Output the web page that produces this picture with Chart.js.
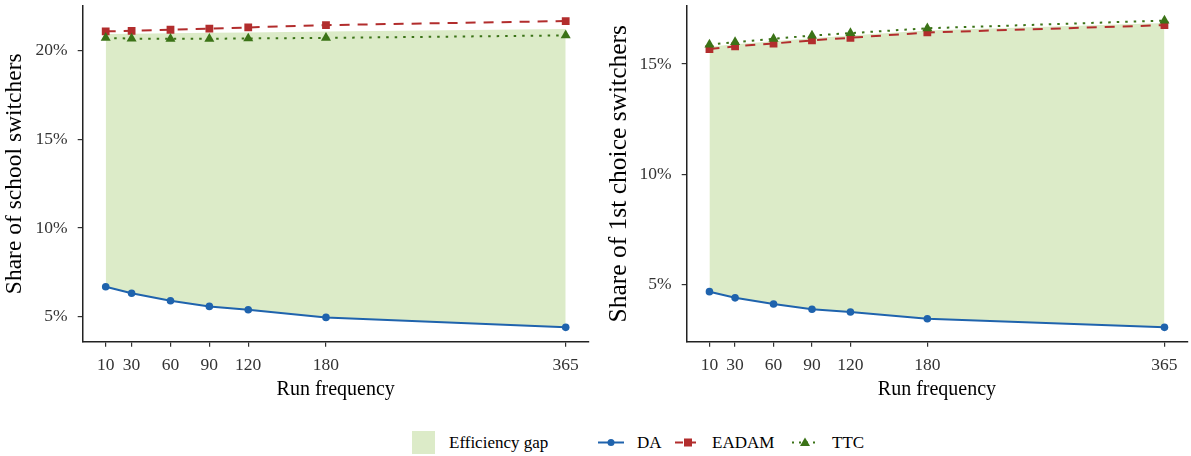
<!DOCTYPE html>
<html>
<head>
<meta charset="utf-8">
<script src="https://cdn.jsdelivr.net/npm/chart.js@4"></script>
<style>
body { margin: 0; background: #fff; width: 1191px; height: 456px; position: relative; overflow: hidden; font-family: "Liberation Serif", serif; }
#c1 { position: absolute; left: 0; top: 0; }
#c2 { position: absolute; left: 595px; top: 0; }
.lg { position: absolute; top: 431px; height: 23px; line-height: 23px; font-size: 17px; color: #000; white-space: nowrap; }
.sw { position: absolute; left: 412px; top: 431px; width: 23px; height: 23px; background: #dcebc8; }
svg.lg { overflow: visible; }
</style>
</head>
<body>
<canvas id="c1" width="595" height="406"></canvas>
<canvas id="c2" width="598" height="406"></canvas>

<div class="sw"></div>
<div class="lg" style="left:449px">Efficiency gap</div>
<svg class="lg" style="left:598px" width="26" height="23">
  <line x1="0" y1="11.5" x2="26" y2="11.5" stroke="#1f63ad" stroke-width="2"/>
  <circle cx="13" cy="11.5" r="3.5" fill="#1f63ad"/>
</svg>
<div class="lg" style="left:637px">DA</div>
<svg class="lg" style="left:675px" width="26" height="23">
  <line x1="0" y1="11.5" x2="26" y2="11.5" stroke="#b22d2d" stroke-width="2" stroke-dasharray="8,5"/>
  <rect x="9" y="7.5" width="8" height="8" fill="#b22d2d"/>
</svg>
<div class="lg" style="left:712px">EADAM</div>
<svg class="lg" style="left:792px" width="26" height="23">
  <line x1="0" y1="11.5" x2="26" y2="11.5" stroke="#3b7317" stroke-width="2" stroke-dasharray="2,5"/>
  <polygon points="13,6.5 18,15 8,15" fill="#3b7317"/>
</svg>
<div class="lg" style="left:832px">TTC</div>

<script>
// run frequency (days) on x
var runFreq = [10, 30, 60, 90, 120, 180, 365];

// left panel: share of school switchers (%)
var schoolDA    = [6.69, 6.32, 5.90, 5.58, 5.39, 4.96, 4.40];
var schoolEADAM = [21.09, 21.12, 21.18, 21.24, 21.31, 21.44, 21.67];
var schoolTTC   = [20.72, 20.68, 20.67, 20.67, 20.69, 20.72, 20.86];
var schoolGapTop = [20.94, 20.96, 20.98, 21.01, 21.03, 21.08, 21.22];

// right panel: share of 1st choice switchers (%)
var firstDA    = [4.67, 4.39, 4.11, 3.87, 3.75, 3.44, 3.05];
var firstEADAM = [15.68, 15.80, 15.93, 16.07, 16.19, 16.43, 16.76];
var firstTTC   = [15.88, 15.99, 16.14, 16.29, 16.40, 16.62, 16.97];
var firstGapTop = [15.78, 15.89, 16.03, 16.17, 16.29, 16.52, 16.86];

var schoolTicks = [5, 10, 15, 20];
var firstTicks = [5, 10, 15];

var FONT = '"Liberation Serif", serif';
var BLUE = '#1f63ad', RED = '#b22d2d', GREEN = '#3b7317', FILL = '#dcebc8';

function pts(arr) {
    return arr.map(function(v, i) { return { x: runFreq[i], y: v }; });
}

function createConfig(p) {
    return {
        type: 'line',
        data: {
            datasets: [{
                label: 'Efficiency gap',
                data: pts(p.gapTop),
                borderWidth: 0,
                pointRadius: 0,
                backgroundColor: FILL,
                fill: 1,
                order: 10
            }, {
                label: 'DA',
                data: pts(p.da),
                borderColor: BLUE,
                borderWidth: 2,
                pointStyle: 'circle',
                pointRadius: 3.8,
                pointBackgroundColor: BLUE,
                pointBorderWidth: 0,
                fill: false,
                order: 3
            }, {
                label: 'EADAM',
                data: pts(p.eadam),
                borderColor: RED,
                borderWidth: 2,
                borderDash: [10, 8],
                pointStyle: 'rect',
                pointRadius: 5.5,
                pointBackgroundColor: RED,
                pointBorderWidth: 0,
                fill: false,
                order: 2
            }, {
                label: 'TTC',
                data: pts(p.ttc),
                borderColor: GREEN,
                borderWidth: 2,
                borderDash: [2.5, 6],
                pointStyle: 'triangle',
                pointRadius: 5.8,
                pointBackgroundColor: GREEN,
                pointBorderWidth: 0,
                fill: false,
                order: 1
            }]
        },
        options: {
            responsive: false,
            animation: false,
            devicePixelRatio: 1,
            layout: { padding: { top: 5, right: p.padRight, left: 0, bottom: 0 } },
            plugins: { legend: { display: false }, tooltip: { enabled: false } },
            scales: {
                x: {
                    type: 'linear',
                    min: -7.75,
                    max: 382.75,
                    afterBuildTicks: function(s) { s.ticks = runFreq.map(function(v) { return { value: v }; }); },
                    ticks: { color: '#333', font: { family: FONT, size: 17.5 }, padding: 8, autoSkip: false, maxRotation: 0,
                             callback: function(v) { return v; } },
                    grid: { drawOnChartArea: false, drawTicks: true, tickLength: 5, color: '#333', lineWidth: 1.2 },
                    border: { display: true, color: '#222', width: 1.5 },
                    title: { display: true, text: 'Run frequency', color: '#000', font: { family: FONT, size: 20 }, padding: { top: 0 } },
                    afterFit: function(s) { s.height = 406 - 341.7; s.paddingLeft = 0; s.paddingRight = 0; }
                },
                y: {
                    type: 'linear',
                    min: p.yMin,
                    max: p.yMax,
                    afterBuildTicks: function(s) { s.ticks = p.yTicks.map(function(v) { return { value: v }; }); },
                    ticks: { color: '#333', font: { family: FONT, size: 17.5 }, padding: 10,
                             callback: function(v) { return v + '%'; } },
                    grid: { drawOnChartArea: false, drawTicks: true, tickLength: 5, color: '#333', lineWidth: 1.2 },
                    border: { display: true, color: '#222', width: 1.5 },
                    title: { display: true, text: p.yTitle, color: '#000', font: { family: FONT, size: p.titleSize }, padding: { top: p.titlePad, bottom: 0 } },
                    afterFit: function(s) { s.width = p.yWidth; s.paddingTop = 0; s.paddingBottom = 0; }
                }
            }
        }
    };
}

new Chart(document.getElementById('c1').getContext('2d'), createConfig({
    da: schoolDA, eadam: schoolEADAM, ttc: schoolTTC, gapTop: schoolGapTop,
    yMin: 3.59, yMax: 22.53, yTicks: schoolTicks,
    yTitle: 'Share of school switchers', yWidth: 82.7, padRight: 595 - 588.7, titlePad: 1, titleSize: 23.5
}));

new Chart(document.getElementById('c2').getContext('2d'), createConfig({
    da: firstDA, eadam: firstEADAM, ttc: firstTTC, gapTop: firstGapTop,
    yMin: 2.40, yMax: 17.64, yTicks: firstTicks,
    yTitle: 'Share of 1st choice switchers', yWidth: 91.7, padRight: 0, titlePad: 9, titleSize: 25.5
}));
</script>
</body>
</html>
